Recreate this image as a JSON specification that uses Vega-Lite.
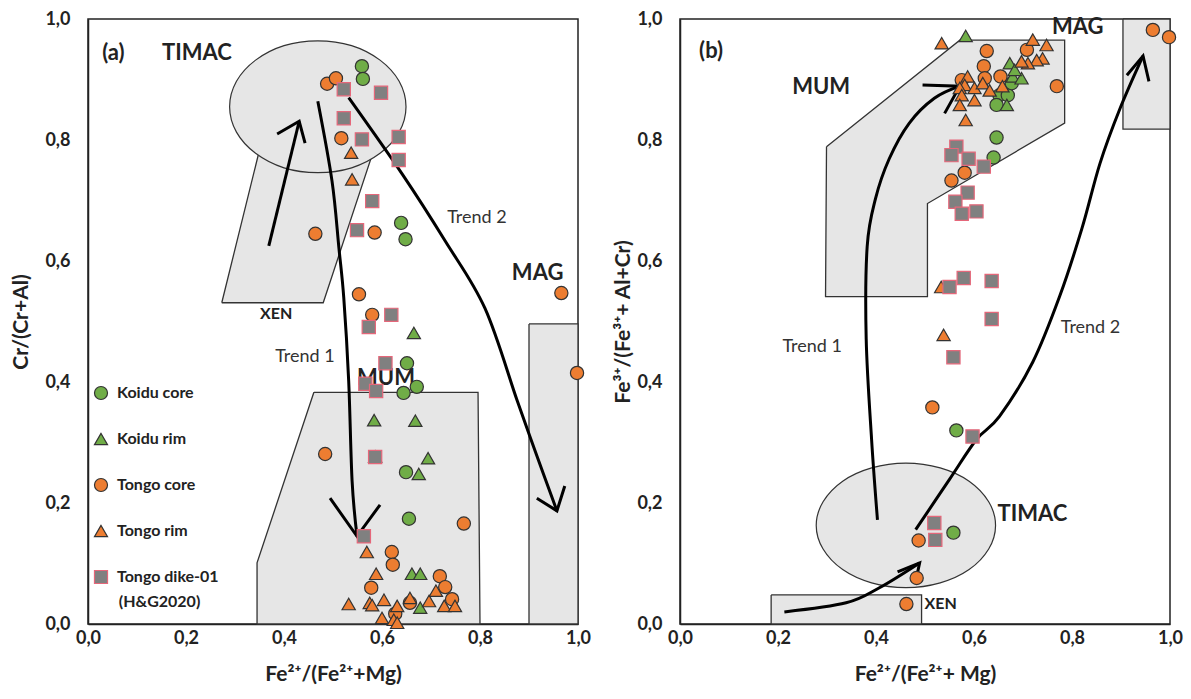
{
  "$schema": "https://vega.github.io/schema/vega-lite/v6.json",
  "background": "white",
  "padding": {"left": 10, "top": 9, "right": 10, "bottom": 5},
  "spacing": 20,
  "datasets": {
    "polyA": [
      {"id": "XEN", "i": 0, "x": 0.273, "y": 0.531}, {"id": "XEN", "i": 1, "x": 0.480, "y": 0.531}, {"id": "XEN", "i": 2, "x": 0.590, "y": 0.800}, {"id": "XEN", "i": 3, "x": 0.355, "y": 0.800}, {"id": "XEN", "i": 4, "x": 0.273, "y": 0.531},
      {"id": "MUM", "i": 0, "x": 0.461, "y": 0.383}, {"id": "MUM", "i": 1, "x": 0.796, "y": 0.383}, {"id": "MUM", "i": 2, "x": 0.800, "y": 0.0}, {"id": "MUM", "i": 3, "x": 0.345, "y": 0.0}, {"id": "MUM", "i": 4, "x": 0.345, "y": 0.101}, {"id": "MUM", "i": 5, "x": 0.461, "y": 0.383},
      {"id": "MAG", "i": 0, "x": 0.900, "y": 0.496}, {"id": "MAG", "i": 1, "x": 1.0, "y": 0.496}, {"id": "MAG", "i": 2, "x": 1.0, "y": 0.0}, {"id": "MAG", "i": 3, "x": 0.900, "y": 0.0}, {"id": "MAG", "i": 4, "x": 0.900, "y": 0.496}
    ],
    "ellA": [
      {"i": 0, "x": 0.649, "y": 0.855}, {"i": 1, "x": 0.635, "y": 0.897}, {"i": 2, "x": 0.596, "y": 0.932}, {"i": 3, "x": 0.538, "y": 0.956},
      {"i": 4, "x": 0.469, "y": 0.964}, {"i": 5, "x": 0.400, "y": 0.956}, {"i": 6, "x": 0.342, "y": 0.932}, {"i": 7, "x": 0.303, "y": 0.897},
      {"i": 8, "x": 0.289, "y": 0.855}, {"i": 9, "x": 0.303, "y": 0.813}, {"i": 10, "x": 0.342, "y": 0.778}, {"i": 11, "x": 0.400, "y": 0.754},
      {"i": 12, "x": 0.469, "y": 0.746}, {"i": 13, "x": 0.538, "y": 0.754}, {"i": 14, "x": 0.596, "y": 0.778}, {"i": 15, "x": 0.635, "y": 0.813}
    ],
    "curvesA": [
      {"id": "t1", "i": 0, "x": 0.469, "y": 0.864}, {"id": "t1", "i": 1, "x": 0.498, "y": 0.732}, {"id": "t1", "i": 2, "x": 0.512, "y": 0.622}, {"id": "t1", "i": 3, "x": 0.522, "y": 0.539}, {"id": "t1", "i": 4, "x": 0.532, "y": 0.402}, {"id": "t1", "i": 5, "x": 0.539, "y": 0.236}, {"id": "t1", "i": 6, "x": 0.549, "y": 0.145},
      {"id": "t2", "i": 0, "x": 0.532, "y": 0.870}, {"id": "t2", "i": 1, "x": 0.641, "y": 0.744}, {"id": "t2", "i": 2, "x": 0.729, "y": 0.633}, {"id": "t2", "i": 3, "x": 0.810, "y": 0.522}, {"id": "t2", "i": 4, "x": 0.876, "y": 0.369}, {"id": "t2", "i": 5, "x": 0.916, "y": 0.278}, {"id": "t2", "i": 6, "x": 0.957, "y": 0.187},
      {"id": "s", "i": 0, "x": 0.369, "y": 0.625}, {"id": "s", "i": 1, "x": 0.431, "y": 0.831}
    ],
    "headsA": [
      {"id": "t1", "i": 0, "x": 0.494, "y": 0.208}, {"id": "t1", "i": 1, "x": 0.549, "y": 0.145}, {"id": "t1", "i": 2, "x": 0.596, "y": 0.197},
      {"id": "t2", "i": 0, "x": 0.916, "y": 0.208}, {"id": "t2", "i": 1, "x": 0.957, "y": 0.187}, {"id": "t2", "i": 2, "x": 0.973, "y": 0.228},
      {"id": "s", "i": 0, "x": 0.386, "y": 0.810}, {"id": "s", "i": 1, "x": 0.431, "y": 0.831}, {"id": "s", "i": 2, "x": 0.443, "y": 0.795}
    ],
    "labelsA": [
      {"k": "big", "t": "(a)", "x": 0.029, "y": 0.944},
      {"k": "big", "t": "TIMAC", "x": 0.151, "y": 0.944},
      {"k": "big", "t": "MAG", "x": 0.865, "y": 0.580},
      {"k": "big", "t": "MUM", "x": 0.549, "y": 0.407},
      {"k": "small", "t": "XEN", "x": 0.351, "y": 0.512},
      {"k": "trend", "t": "Trend 1", "x": 0.382, "y": 0.441},
      {"k": "trend", "t": "Trend 2", "x": 0.733, "y": 0.671},
      {"k": "leg", "t": "(H&G2020)", "x": 0.063, "y": 0.037}
    ],
    "ptsA": [
      {"s": "Koidu core", "x": 0.559, "y": 0.922}, {"s": "Koidu core", "x": 0.561, "y": 0.901}, {"s": "Koidu core", "x": 0.639, "y": 0.663}, {"s": "Koidu core", "x": 0.648, "y": 0.636}, {"s": "Koidu core", "x": 0.651, "y": 0.431}, {"s": "Koidu core", "x": 0.644, "y": 0.382}, {"s": "Koidu core", "x": 0.671, "y": 0.392}, {"s": "Koidu core", "x": 0.649, "y": 0.251}, {"s": "Koidu core", "x": 0.655, "y": 0.174},
      {"s": "Koidu rim", "x": 0.665, "y": 0.481}, {"s": "Koidu rim", "x": 0.584, "y": 0.337}, {"s": "Koidu rim", "x": 0.668, "y": 0.336}, {"s": "Koidu rim", "x": 0.694, "y": 0.274}, {"s": "Koidu rim", "x": 0.675, "y": 0.248}, {"s": "Koidu rim", "x": 0.661, "y": 0.083}, {"s": "Koidu rim", "x": 0.678, "y": 0.083}, {"s": "Koidu rim", "x": 0.678, "y": 0.027},
      {"s": "Tongo core", "x": 0.488, "y": 0.893}, {"s": "Tongo core", "x": 0.506, "y": 0.902}, {"s": "Tongo core", "x": 0.517, "y": 0.803}, {"s": "Tongo core", "x": 0.464, "y": 0.645}, {"s": "Tongo core", "x": 0.585, "y": 0.647}, {"s": "Tongo core", "x": 0.553, "y": 0.545}, {"s": "Tongo core", "x": 0.580, "y": 0.511}, {"s": "Tongo core", "x": 0.966, "y": 0.547}, {"s": "Tongo core", "x": 0.998, "y": 0.415}, {"s": "Tongo core", "x": 0.484, "y": 0.281}, {"s": "Tongo core", "x": 0.767, "y": 0.166}, {"s": "Tongo core", "x": 0.620, "y": 0.119}, {"s": "Tongo core", "x": 0.622, "y": 0.098}, {"s": "Tongo core", "x": 0.718, "y": 0.079}, {"s": "Tongo core", "x": 0.729, "y": 0.061}, {"s": "Tongo core", "x": 0.578, "y": 0.060}, {"s": "Tongo core", "x": 0.743, "y": 0.041}, {"s": "Tongo core", "x": 0.627, "y": 0.017}, {"s": "Tongo core", "x": 0.657, "y": 0.035},
      {"s": "Tongo rim", "x": 0.537, "y": 0.779}, {"s": "Tongo rim", "x": 0.539, "y": 0.735}, {"s": "Tongo rim", "x": 0.586, "y": 0.277}, {"s": "Tongo rim", "x": 0.569, "y": 0.119}, {"s": "Tongo rim", "x": 0.588, "y": 0.083}, {"s": "Tongo rim", "x": 0.532, "y": 0.033}, {"s": "Tongo rim", "x": 0.575, "y": 0.035}, {"s": "Tongo rim", "x": 0.580, "y": 0.031}, {"s": "Tongo rim", "x": 0.604, "y": 0.040}, {"s": "Tongo rim", "x": 0.631, "y": 0.030}, {"s": "Tongo rim", "x": 0.657, "y": 0.043}, {"s": "Tongo rim", "x": 0.696, "y": 0.038}, {"s": "Tongo rim", "x": 0.710, "y": 0.055}, {"s": "Tongo rim", "x": 0.727, "y": 0.030}, {"s": "Tongo rim", "x": 0.749, "y": 0.030}, {"s": "Tongo rim", "x": 0.600, "y": 0.010}, {"s": "Tongo rim", "x": 0.624, "y": 0.007}, {"s": "Tongo rim", "x": 0.631, "y": 0.002},
      {"s": "Tongo dike-01", "x": 0.522, "y": 0.884}, {"s": "Tongo dike-01", "x": 0.598, "y": 0.878}, {"s": "Tongo dike-01", "x": 0.522, "y": 0.836}, {"s": "Tongo dike-01", "x": 0.634, "y": 0.805}, {"s": "Tongo dike-01", "x": 0.559, "y": 0.801}, {"s": "Tongo dike-01", "x": 0.634, "y": 0.767}, {"s": "Tongo dike-01", "x": 0.580, "y": 0.699}, {"s": "Tongo dike-01", "x": 0.549, "y": 0.651}, {"s": "Tongo dike-01", "x": 0.619, "y": 0.511}, {"s": "Tongo dike-01", "x": 0.573, "y": 0.491}, {"s": "Tongo dike-01", "x": 0.607, "y": 0.431}, {"s": "Tongo dike-01", "x": 0.566, "y": 0.397}, {"s": "Tongo dike-01", "x": 0.588, "y": 0.385}, {"s": "Tongo dike-01", "x": 0.586, "y": 0.276}, {"s": "Tongo dike-01", "x": 0.563, "y": 0.145}
    ],
    "polyB": [
      {"id": "MUM", "i": 0, "x": 0.299, "y": 0.789}, {"id": "MUM", "i": 1, "x": 0.571, "y": 0.965}, {"id": "MUM", "i": 2, "x": 0.785, "y": 0.965}, {"id": "MUM", "i": 3, "x": 0.785, "y": 0.828}, {"id": "MUM", "i": 4, "x": 0.505, "y": 0.695}, {"id": "MUM", "i": 5, "x": 0.505, "y": 0.541}, {"id": "MUM", "i": 6, "x": 0.297, "y": 0.541}, {"id": "MUM", "i": 7, "x": 0.299, "y": 0.789},
      {"id": "MAG", "i": 0, "x": 0.904, "y": 1.0}, {"id": "MAG", "i": 1, "x": 1.0, "y": 1.0}, {"id": "MAG", "i": 2, "x": 1.0, "y": 0.818}, {"id": "MAG", "i": 3, "x": 0.904, "y": 0.818}, {"id": "MAG", "i": 4, "x": 0.904, "y": 1.0},
      {"id": "XEN", "i": 0, "x": 0.186, "y": 0.048}, {"id": "XEN", "i": 1, "x": 0.493, "y": 0.048}, {"id": "XEN", "i": 2, "x": 0.493, "y": 0.0}, {"id": "XEN", "i": 3, "x": 0.186, "y": 0.0}, {"id": "XEN", "i": 4, "x": 0.186, "y": 0.048}
    ],
    "ellB": [
      {"i": 0, "x": 0.644, "y": 0.163}, {"i": 1, "x": 0.630, "y": 0.202}, {"i": 2, "x": 0.590, "y": 0.236}, {"i": 3, "x": 0.531, "y": 0.258},
      {"i": 4, "x": 0.461, "y": 0.266}, {"i": 5, "x": 0.391, "y": 0.258}, {"i": 6, "x": 0.332, "y": 0.236}, {"i": 7, "x": 0.292, "y": 0.202},
      {"i": 8, "x": 0.278, "y": 0.163}, {"i": 9, "x": 0.292, "y": 0.124}, {"i": 10, "x": 0.332, "y": 0.090}, {"i": 11, "x": 0.391, "y": 0.068},
      {"i": 12, "x": 0.461, "y": 0.060}, {"i": 13, "x": 0.531, "y": 0.068}, {"i": 14, "x": 0.590, "y": 0.090}, {"i": 15, "x": 0.630, "y": 0.124}
    ],
    "curvesB": [
      {"id": "t1", "i": 0, "x": 0.403, "y": 0.172}, {"id": "t1", "i": 1, "x": 0.391, "y": 0.305}, {"id": "t1", "i": 2, "x": 0.380, "y": 0.471}, {"id": "t1", "i": 3, "x": 0.382, "y": 0.624}, {"id": "t1", "i": 4, "x": 0.399, "y": 0.703}, {"id": "t1", "i": 5, "x": 0.427, "y": 0.769}, {"id": "t1", "i": 6, "x": 0.468, "y": 0.828}, {"id": "t1", "i": 7, "x": 0.519, "y": 0.869}, {"id": "t1", "i": 8, "x": 0.571, "y": 0.889},
      {"id": "t2", "i": 0, "x": 0.481, "y": 0.156}, {"id": "t2", "i": 1, "x": 0.550, "y": 0.239}, {"id": "t2", "i": 2, "x": 0.605, "y": 0.305}, {"id": "t2", "i": 3, "x": 0.652, "y": 0.343}, {"id": "t2", "i": 4, "x": 0.720, "y": 0.433}, {"id": "t2", "i": 5, "x": 0.775, "y": 0.542}, {"id": "t2", "i": 6, "x": 0.820, "y": 0.653}, {"id": "t2", "i": 7, "x": 0.857, "y": 0.761}, {"id": "t2", "i": 8, "x": 0.898, "y": 0.852}, {"id": "t2", "i": 9, "x": 0.945, "y": 0.939},
      {"id": "x", "i": 0, "x": 0.213, "y": 0.020}, {"id": "x", "i": 1, "x": 0.339, "y": 0.035}, {"id": "x", "i": 2, "x": 0.407, "y": 0.060}, {"id": "x", "i": 3, "x": 0.489, "y": 0.101}
    ],
    "headsB": [
      {"id": "t1", "i": 0, "x": 0.495, "y": 0.891}, {"id": "t1", "i": 1, "x": 0.571, "y": 0.889}, {"id": "t1", "i": 2, "x": 0.540, "y": 0.844},
      {"id": "t2", "i": 0, "x": 0.912, "y": 0.907}, {"id": "t2", "i": 1, "x": 0.945, "y": 0.939}, {"id": "t2", "i": 2, "x": 0.957, "y": 0.897},
      {"id": "x", "i": 0, "x": 0.444, "y": 0.086}, {"id": "x", "i": 1, "x": 0.489, "y": 0.101}, {"id": "x", "i": 2, "x": 0.483, "y": 0.078}
    ],
    "labelsB": [
      {"k": "big", "t": "(b)", "x": 0.039, "y": 0.947},
      {"k": "big", "t": "MUM", "x": 0.229, "y": 0.887},
      {"k": "big", "t": "MAG", "x": 0.759, "y": 0.987},
      {"k": "big", "t": "TIMAC", "x": 0.648, "y": 0.181},
      {"k": "small", "t": "XEN", "x": 0.499, "y": 0.033},
      {"k": "trend", "t": "Trend 1", "x": 0.209, "y": 0.458},
      {"k": "trend", "t": "Trend 2", "x": 0.777, "y": 0.489}
    ],
    "ptsB": [
      {"s": "Koidu core", "x": 0.646, "y": 0.804}, {"s": "Koidu core", "x": 0.640, "y": 0.771}, {"s": "Koidu core", "x": 0.564, "y": 0.320}, {"s": "Koidu core", "x": 0.558, "y": 0.151}, {"s": "Koidu core", "x": 0.652, "y": 0.874}, {"s": "Koidu core", "x": 0.646, "y": 0.858}, {"s": "Koidu core", "x": 0.669, "y": 0.874}, {"s": "Koidu core", "x": 0.677, "y": 0.894},
      {"s": "Koidu rim", "x": 0.583, "y": 0.972}, {"s": "Koidu rim", "x": 0.673, "y": 0.927}, {"s": "Koidu rim", "x": 0.679, "y": 0.905}, {"s": "Koidu rim", "x": 0.697, "y": 0.902}, {"s": "Koidu rim", "x": 0.667, "y": 0.858}, {"s": "Koidu rim", "x": 0.683, "y": 0.916},
      {"s": "Tongo core", "x": 0.626, "y": 0.947}, {"s": "Tongo core", "x": 0.620, "y": 0.922}, {"s": "Tongo core", "x": 0.769, "y": 0.889}, {"s": "Tongo core", "x": 0.708, "y": 0.949}, {"s": "Tongo core", "x": 0.575, "y": 0.899}, {"s": "Tongo core", "x": 0.654, "y": 0.905}, {"s": "Tongo core", "x": 0.622, "y": 0.902}, {"s": "Tongo core", "x": 0.965, "y": 0.982}, {"s": "Tongo core", "x": 0.998, "y": 0.970}, {"s": "Tongo core", "x": 0.581, "y": 0.746}, {"s": "Tongo core", "x": 0.554, "y": 0.733}, {"s": "Tongo core", "x": 0.515, "y": 0.358}, {"s": "Tongo core", "x": 0.487, "y": 0.138}, {"s": "Tongo core", "x": 0.483, "y": 0.076}, {"s": "Tongo core", "x": 0.462, "y": 0.033},
      {"s": "Tongo rim", "x": 0.534, "y": 0.960}, {"s": "Tongo rim", "x": 0.720, "y": 0.966}, {"s": "Tongo rim", "x": 0.748, "y": 0.957}, {"s": "Tongo rim", "x": 0.740, "y": 0.935}, {"s": "Tongo rim", "x": 0.728, "y": 0.932}, {"s": "Tongo rim", "x": 0.710, "y": 0.927}, {"s": "Tongo rim", "x": 0.697, "y": 0.930}, {"s": "Tongo rim", "x": 0.587, "y": 0.905}, {"s": "Tongo rim", "x": 0.581, "y": 0.891}, {"s": "Tongo rim", "x": 0.571, "y": 0.886}, {"s": "Tongo rim", "x": 0.601, "y": 0.886}, {"s": "Tongo rim", "x": 0.618, "y": 0.894}, {"s": "Tongo rim", "x": 0.632, "y": 0.882}, {"s": "Tongo rim", "x": 0.658, "y": 0.889}, {"s": "Tongo rim", "x": 0.575, "y": 0.874}, {"s": "Tongo rim", "x": 0.601, "y": 0.866}, {"s": "Tongo rim", "x": 0.571, "y": 0.858}, {"s": "Tongo rim", "x": 0.583, "y": 0.833}, {"s": "Tongo rim", "x": 0.533, "y": 0.557}, {"s": "Tongo rim", "x": 0.538, "y": 0.478},
      {"s": "Tongo dike-01", "x": 0.564, "y": 0.789}, {"s": "Tongo dike-01", "x": 0.554, "y": 0.775}, {"s": "Tongo dike-01", "x": 0.589, "y": 0.769}, {"s": "Tongo dike-01", "x": 0.620, "y": 0.756}, {"s": "Tongo dike-01", "x": 0.587, "y": 0.713}, {"s": "Tongo dike-01", "x": 0.562, "y": 0.698}, {"s": "Tongo dike-01", "x": 0.605, "y": 0.682}, {"s": "Tongo dike-01", "x": 0.575, "y": 0.678}, {"s": "Tongo dike-01", "x": 0.550, "y": 0.557}, {"s": "Tongo dike-01", "x": 0.579, "y": 0.572}, {"s": "Tongo dike-01", "x": 0.636, "y": 0.567}, {"s": "Tongo dike-01", "x": 0.636, "y": 0.504}, {"s": "Tongo dike-01", "x": 0.558, "y": 0.441}, {"s": "Tongo dike-01", "x": 0.597, "y": 0.310}, {"s": "Tongo dike-01", "x": 0.519, "y": 0.167}, {"s": "Tongo dike-01", "x": 0.521, "y": 0.139}
    ]
  },
  "resolve": {"scale": {"fill": "independent", "stroke": "independent", "shape": "independent"}},
  "hconcat": [
    {
      "width": 490,
      "height": 605,
      "encoding": {
        "x": {"field": "x", "type": "quantitative", "scale": {"domain": [0, 1], "nice": false},
              "axis": {"title": "Fe²⁺/(Fe²⁺+Mg)", "values": [0, 0.2, 0.4, 0.6, 0.8, 1], "labelExpr": "replace(format(datum.value, '.1f'), '.', ',')", "labelPadding": 5, "titlePadding": 16}},
        "y": {"field": "y", "type": "quantitative", "scale": {"domain": [0, 1], "nice": false},
              "axis": {"title": "Cr/(Cr+Al)", "values": [0, 0.2, 0.4, 0.6, 0.8, 1], "labelExpr": "replace(format(datum.value, '.1f'), '.', ',')", "labelPadding": 18, "titlePadding": 13}}
      },
      "layer": [
        {"data": {"name": "polyA"}, "mark": {"type": "line", "fill": "#e6e6e6", "stroke": "#333333", "strokeWidth": 1.3},
         "encoding": {"detail": {"field": "id"}, "order": {"field": "i", "type": "quantitative"}}},
        {"data": {"name": "ellA"}, "mark": {"type": "line", "fill": "#e6e6e6", "stroke": "#333333", "strokeWidth": 1.2, "interpolate": "cardinal-closed"},
         "encoding": {"order": {"field": "i", "type": "quantitative"}}},
        {"data": {"name": "curvesA"}, "mark": {"type": "line", "stroke": "#000000", "strokeWidth": 3, "interpolate": "cardinal"},
         "encoding": {"detail": {"field": "id"}, "order": {"field": "i", "type": "quantitative"}}},
        {"data": {"name": "headsA"}, "mark": {"type": "line", "stroke": "#000000", "strokeWidth": 3},
         "encoding": {"detail": {"field": "id"}, "order": {"field": "i", "type": "quantitative"}}},
        {"data": {"name": "labelsA"}, "transform": [{"filter": "datum.k == 'big'"}],
         "mark": {"type": "text", "align": "left", "baseline": "middle", "font": "Lato", "fontSize": 22, "fontWeight": "bold", "color": "#222222"},
         "encoding": {"text": {"field": "t"}}},
        {"data": {"name": "labelsA"}, "transform": [{"filter": "datum.k == 'small'"}],
         "mark": {"type": "text", "align": "left", "baseline": "middle", "font": "Lato", "fontSize": 16, "fontWeight": "bold", "color": "#222222"},
         "encoding": {"text": {"field": "t"}}},
        {"data": {"name": "labelsA"}, "transform": [{"filter": "datum.k == 'trend'"}],
         "mark": {"type": "text", "align": "left", "baseline": "middle", "font": "Lato", "fontSize": 18, "color": "#333333"},
         "encoding": {"text": {"field": "t"}}},
        {"data": {"name": "labelsA"}, "transform": [{"filter": "datum.k == 'leg'"}],
         "mark": {"type": "text", "align": "left", "baseline": "middle", "font": "Lato", "fontSize": 16, "fontWeight": "bold", "color": "#222222"},
         "encoding": {"text": {"field": "t"}}},
        {"data": {"name": "ptsA"}, "mark": {"type": "point", "filled": true, "size": 175, "strokeWidth": 1.2, "opacity": 1},
         "encoding": {
           "fill": {"field": "s", "type": "nominal", "scale": {"domain": ["Koidu core", "Koidu rim", "Tongo core", "Tongo rim", "Tongo dike-01"], "range": ["#70AD47", "#70AD47", "#ED7D31", "#ED7D31", "#808080"]},
                    "legend": {"orient": "none", "legendX": 5, "legendY": 366, "title": null}},
           "stroke": {"field": "s", "type": "nominal", "scale": {"domain": ["Koidu core", "Koidu rim", "Tongo core", "Tongo rim", "Tongo dike-01"], "range": ["#333333", "#333333", "#333333", "#333333", "#E5677A"]},
                    "legend": {"orient": "none", "legendX": 5, "legendY": 366, "title": null}},
           "shape": {"field": "s", "type": "nominal", "scale": {"domain": ["Koidu core", "Koidu rim", "Tongo core", "Tongo rim", "Tongo dike-01"], "range": ["circle", "triangle-up", "circle", "triangle-up", "square"]},
                    "legend": {"orient": "none", "legendX": 5, "legendY": 366, "title": null}}
         }}
      ]
    },
    {
      "width": 490,
      "height": 605,
      "encoding": {
        "x": {"field": "x", "type": "quantitative", "scale": {"domain": [0, 1], "nice": false},
              "axis": {"title": "Fe²⁺/(Fe²⁺+ Mg)", "values": [0, 0.2, 0.4, 0.6, 0.8, 1], "labelExpr": "replace(format(datum.value, '.1f'), '.', ',')", "labelPadding": 5, "titlePadding": 16}},
        "y": {"field": "y", "type": "quantitative", "scale": {"domain": [0, 1], "nice": false},
              "axis": {"title": "Fe³⁺/(Fe³⁺+ Al+Cr)", "values": [0, 0.2, 0.4, 0.6, 0.8, 1], "labelExpr": "replace(format(datum.value, '.1f'), '.', ',')", "labelPadding": 18, "titlePadding": 3}}
      },
      "layer": [
        {"data": {"name": "polyB"}, "mark": {"type": "line", "fill": "#e6e6e6", "stroke": "#333333", "strokeWidth": 1.3},
         "encoding": {"detail": {"field": "id"}, "order": {"field": "i", "type": "quantitative"}}},
        {"data": {"name": "ellB"}, "mark": {"type": "line", "fill": "#e6e6e6", "stroke": "#333333", "strokeWidth": 1.2, "interpolate": "cardinal-closed"},
         "encoding": {"order": {"field": "i", "type": "quantitative"}}},
        {"data": {"name": "curvesB"}, "mark": {"type": "line", "stroke": "#000000", "strokeWidth": 3, "interpolate": "cardinal"},
         "encoding": {"detail": {"field": "id"}, "order": {"field": "i", "type": "quantitative"}}},
        {"data": {"name": "headsB"}, "mark": {"type": "line", "stroke": "#000000", "strokeWidth": 3},
         "encoding": {"detail": {"field": "id"}, "order": {"field": "i", "type": "quantitative"}}},
        {"data": {"name": "labelsB"}, "transform": [{"filter": "datum.k == 'big'"}],
         "mark": {"type": "text", "align": "left", "baseline": "middle", "font": "Lato", "fontSize": 22, "fontWeight": "bold", "color": "#222222"},
         "encoding": {"text": {"field": "t"}}},
        {"data": {"name": "labelsB"}, "transform": [{"filter": "datum.k == 'small'"}],
         "mark": {"type": "text", "align": "left", "baseline": "middle", "font": "Lato", "fontSize": 16, "fontWeight": "bold", "color": "#222222"},
         "encoding": {"text": {"field": "t"}}},
        {"data": {"name": "labelsB"}, "transform": [{"filter": "datum.k == 'trend'"}],
         "mark": {"type": "text", "align": "left", "baseline": "middle", "font": "Lato", "fontSize": 18, "color": "#333333"},
         "encoding": {"text": {"field": "t"}}},
        {"data": {"name": "ptsB"}, "mark": {"type": "point", "filled": true, "size": 175, "strokeWidth": 1.2, "opacity": 1},
         "encoding": {
           "fill": {"field": "s", "type": "nominal", "scale": {"domain": ["Koidu core", "Koidu rim", "Tongo core", "Tongo rim", "Tongo dike-01"], "range": ["#70AD47", "#70AD47", "#ED7D31", "#ED7D31", "#808080"]}, "legend": null},
           "stroke": {"field": "s", "type": "nominal", "scale": {"domain": ["Koidu core", "Koidu rim", "Tongo core", "Tongo rim", "Tongo dike-01"], "range": ["#333333", "#333333", "#333333", "#333333", "#E5677A"]}, "legend": null},
           "shape": {"field": "s", "type": "nominal", "scale": {"domain": ["Koidu core", "Koidu rim", "Tongo core", "Tongo rim", "Tongo dike-01"], "range": ["circle", "triangle-up", "circle", "triangle-up", "square"]}, "legend": null}
         }}
      ]
    }
  ],
  "config": {
    "font": "Lato",
    "view": {"stroke": "#222222", "strokeWidth": 1.5},
    "axis": {"grid": false, "ticks": false, "labelFont": "Lato", "labelFontSize": 18, "labelFontWeight": "bold", "labelColor": "#222222", "labelFlush": false, "labelOverlap": false,
             "titleFont": "Lato", "titleFontSize": 21, "titleFontWeight": "bold", "titleColor": "#222222", "domainColor": "#222222", "domainWidth": 1.5},
    "legend": {"labelFont": "Lato", "labelFontSize": 16, "labelFontWeight": "bold", "labelColor": "#222222", "symbolSize": 170, "symbolStrokeWidth": 1.2, "rowPadding": 28, "labelOffset": 8, "padding": 0}
  }
}
